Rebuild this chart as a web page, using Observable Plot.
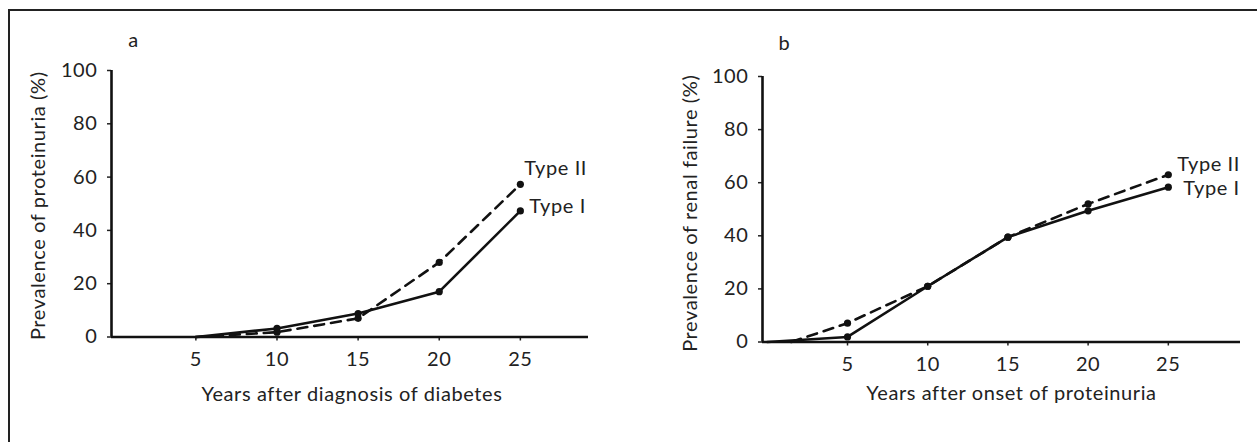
<!DOCTYPE html>
<html><head><meta charset="utf-8">
<script src="https://cdn.jsdelivr.net/npm/d3@7"></script>
<script src="https://cdn.jsdelivr.net/npm/@observablehq/plot@0.6"></script>
<style>
html,body{margin:0;padding:0;background:#fff;overflow:hidden;width:1257px;height:442px;}
#frame{position:absolute;left:8px;top:9px;width:1300px;height:500px;border-left:2px solid #222;border-top:2px solid #222;}
#pa{position:absolute;left:0;top:0;}
#pb{position:absolute;left:629px;top:0;}
</style></head><body>
<div id="frame"></div><div id="pa"></div><div id="pb"></div>
<script>
// ---- data ----
const seriesNames = ["Type I", "Type II"];
const xTickValues = [5, 10, 15, 20, 25];
const yTickValues = [0, 20, 40, 60, 80, 100];

// Panel a: prevalence of proteinuria (%)
const aYearsTypeI  = [5, 10, 15, 20, 25];
const aTypeI       = [0, 3.2, 8.8, 17, 47.3];
const aYearsTypeII = [5, 10, 15, 20, 25];
const aTypeII      = [0, 1.8, 7, 28, 57.3];

// Panel b: prevalence of renal failure (%)
const bYearsTypeI  = [0, 5, 10, 15, 20, 25];
const bTypeI       = [0, 1.9, 21, 39.5, 49.4, 58.3];
const bYearsTypeII = [1.5, 5, 10, 15, 20, 25];
const bTypeII      = [0, 7.1, 21, 39.5, 52, 63];

function panel(o) {
  const d1 = o.years1.map((x, i) => ({x, y: o.type1[i]}));
  const d2 = o.years2.map((x, i) => ({x, y: o.type2[i]}));
  const x0 = o.xDomain[0], x1 = o.xDomain[1];
  const fs = 20;
  const ls = "0.6px";
  return Plot.plot({
    width: 628, height: 442,
    marginLeft: o.ml, marginRight: o.mr, marginTop: o.mt, marginBottom: o.mb,
    x: {domain: o.xDomain},
    y: {domain: [0, 100]},
    style: {fontFamily: "Lato", fontSize: "20px", color: "#222", background: "transparent", overflow: "visible", letterSpacing: ls},
    marks: [
      Plot.axisX({ticks: xTickValues, tickSize: 4, tickPadding: 11, strokeWidth: 1.5, label: null, fontSize: fs}),
      Plot.axisY({ticks: yTickValues, tickSize: 4, tickPadding: 10, strokeWidth: 1.5, label: null, fontSize: fs}),
      Plot.ruleX([x0], {y1: 0, y2: 100, strokeWidth: 2.6, stroke: "#111"}),
      Plot.ruleY([0], {x1: x0, x2: x1, strokeWidth: 2.6, stroke: "#111"}),
      Plot.line(d2, {x: "x", y: "y", strokeWidth: 2.6, stroke: "#111", strokeDasharray: "10,7"}),
      Plot.line(d1, {x: "x", y: "y", strokeWidth: 2.6, stroke: "#111"}),
      Plot.dot(d2.filter(d => d.x >= o.dotMin), {x: "x", y: "y", r: 3.6, fill: "#111"}),
      Plot.dot(d1.filter(d => d.x >= o.dotMin), {x: "x", y: "y", r: 3.6, fill: "#111"}),
      Plot.text([d2[d2.length - 1]], {x: "x", y: "y", text: () => seriesNames[1], textAnchor: "start", dx: o.l2[0], dy: o.l2[1], fontSize: fs, fill: "#222"}),
      Plot.text([d1[d1.length - 1]], {x: "x", y: "y", text: () => seriesNames[0], textAnchor: "start", dx: o.l1[0], dy: o.l1[1], fontSize: fs, fill: "#222"}),
      Plot.text([o.letter], {frameAnchor: "top-left", dx: o.letterPos[0], dy: o.letterPos[1], fontSize: fs, fill: "#222", textAnchor: "middle"}),
      Plot.text([o.ytitle], {frameAnchor: "left", rotate: -90, dx: o.yt[0], dy: o.yt[1], fontSize: fs, fill: "#222", lineAnchor: "middle", textAnchor: "middle"}),
      Plot.text([o.xtitle], {frameAnchor: "bottom", dx: o.xt[0], dy: o.xt[1], fontSize: fs, fill: "#222", lineAnchor: "middle", textAnchor: "middle"})
    ]
  });
}

document.getElementById("pa").append(panel({
  years1: aYearsTypeI, type1: aTypeI, years2: aYearsTypeII, type2: aTypeII,
  xDomain: [-0.2, 29.2], ml: 111, mr: 40, mt: 70, mb: 105.5, dotMin: 10,
  l1: [9, -4], l2: [4, -16],
  letter: "a", letterPos: [22, -38],
  ytitle: "Prevalence of proteinuria (%)", yt: [-73, 2],
  xtitle: "Years after diagnosis of diabetes", xt: [2, 58]
}));

document.getElementById("pb").append(panel({
  years1: bYearsTypeI, type1: bTypeI, years2: bYearsTypeII, type2: bTypeII,
  xDomain: [-0.3, 29.5], ml: 133, mr: 17, mt: 76, mb: 100.5, dotMin: 5,
  l1: [15, 1], l2: [9, -10],
  letter: "b", letterPos: [22, -41],
  ytitle: "Prevalence of renal failure (%)", yt: [-72, 4],
  xtitle: "Years after onset of proteinuria", xt: [10, 52]
}));
</script>
</body></html>
